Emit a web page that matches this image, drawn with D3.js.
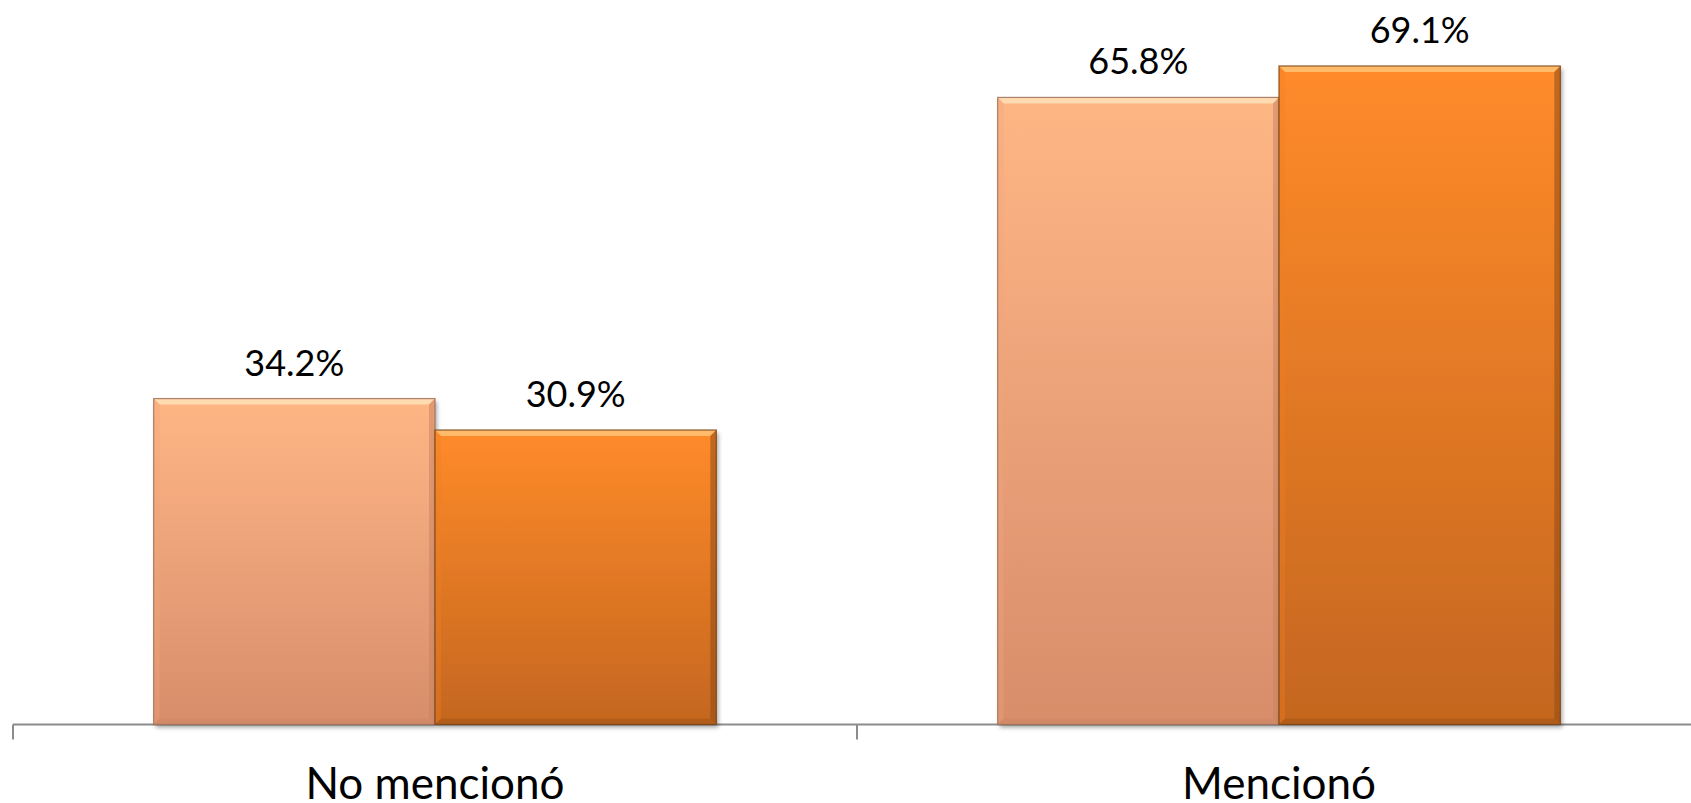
<!DOCTYPE html>
<html>
<head>
<meta charset="utf-8">
<script src="https://cdn.jsdelivr.net/npm/d3@7"></script>
<style>
  html, body { margin: 0; padding: 0; background: #fff; }
  svg { display: block; }
  text { font-family: Lato, "Open Sans", sans-serif; fill: #000; }
</style>
</head>
<body>
<svg id="chart" width="1691" height="803"></svg>
<script>
const categories = ["No mencionó", "Mencionó"];
const seriesNames = ["Serie 1", "Serie 2"];
const series1 = [34.2, 65.8];
const series2 = [30.9, 69.1];
const valueLabels = [["34.2%", "30.9%"], ["65.8%", "69.1%"]];

const W = 1691, H = 803;
const svg = d3.select("#chart");

const defs = svg.append("defs");
const palettes = [
  {top: "#ffb685", bottom: "#d88d6b", hi: "#ffe2b8", sideL: "#f2a77a", sideR: "#c98460", edge: "#a07058"},
  {top: "#ff8b2a", bottom: "#c4661f", hi: "#ffc276", sideL: "#f07f22", sideR: "#8f4a14", edge: "#7a4415"}
];
palettes.forEach((p, i) => {
  const g = defs.append("linearGradient").attr("id", "grad" + i)
    .attr("x1", 0).attr("y1", 0).attr("x2", 0).attr("y2", 1);
  g.append("stop").attr("offset", "0%").attr("stop-color", p.top);
  g.append("stop").attr("offset", "100%").attr("stop-color", p.bottom);
});
const f = defs.append("filter").attr("id", "shadow").attr("x", "-5%").attr("y", "-5%").attr("width", "110%").attr("height", "110%");
f.append("feDropShadow").attr("dx", 2).attr("dy", 3).attr("stdDeviation", 2).attr("flood-color", "#000").attr("flood-opacity", 0.35);

const baseline = 724.5;
const x0 = d3.scaleBand().domain(categories).range([13, 1701]).padding(0);
const x1 = d3.scaleBand().domain(seriesNames).range([0, x0.bandwidth()]).paddingInner(0).paddingOuter(0.5);
const y = d3.scaleLinear().domain([0, 76]).range([baseline, baseline - 76 * 9.53]);

const data = categories.map((c, i) => ({cat: c, vals: [series1[i], series2[i]]}));

// axis line
svg.append("line").attr("x1", x0.range()[0]).attr("x2", W).attr("y1", baseline).attr("y2", baseline)
  .attr("stroke", "#8c8c8c").attr("stroke-width", 2);
// boundary ticks
const tickPos = categories.map((c, i) => x0.range()[0] + i * x0.step()).concat([x0.range()[1]]);
svg.selectAll(".tick").data(tickPos).enter().append("line")
  .attr("x1", d => d).attr("x2", d => d).attr("y1", baseline).attr("y2", baseline + 15)
  .attr("stroke", "#8c8c8c").attr("stroke-width", 2);

const groups = svg.selectAll(".grp").data(data).enter().append("g")
  .attr("transform", d => `translate(${x0(d.cat)},0)`);

groups.each(function(d, ci) {
  const g = d3.select(this);
  d.vals.forEach((v, si) => {
    const p = palettes[si];
    const bx = x1(seriesNames[si]), bw = x1.bandwidth();
    const by = y(v), bh = baseline - by;
    const b = g.append("g");
    b.append("rect").attr("x", bx).attr("y", by).attr("width", bw).attr("height", bh)
      .attr("fill", `url(#grad${si})`).attr("filter", "url(#shadow)");
    const e = 6;
    b.append("path").attr("d", `M${bx},${by} L${bx + bw},${by} L${bx + bw - e},${by + e} L${bx + e},${by + e} Z`)
      .attr("fill", p.hi).attr("opacity", 0.85);
    b.append("path").attr("d", `M${bx},${by} L${bx + e},${by + e} L${bx + e},${baseline - e} L${bx},${baseline} Z`)
      .attr("fill", p.sideL).attr("opacity", 0.35);
    b.append("path").attr("d", `M${bx + bw},${by} L${bx + bw - e},${by + e} L${bx + bw - e},${baseline - e} L${bx + bw},${baseline} Z`)
      .attr("fill", p.sideR).attr("opacity", 0.55);
    b.append("path").attr("d", `M${bx},${baseline} L${bx + e},${baseline - e} L${bx + bw - e},${baseline - e} L${bx + bw},${baseline} Z`)
      .attr("fill", p.sideR).attr("opacity", 0.35);
    b.append("rect").attr("x", bx).attr("y", by).attr("width", bw).attr("height", bh)
      .attr("fill", "none").attr("stroke", p.edge).attr("stroke-width", 1.2).attr("stroke-opacity", 0.85);
    g.append("text").attr("x", bx + bw / 2).attr("y", by - 23)
      .attr("text-anchor", "middle").attr("font-size", 36).text(valueLabels[ci][si]);
  });
});

// category labels
svg.selectAll(".cat").data(categories).enter().append("text")
  .attr("x", d => x0(d) + x0.bandwidth() / 2).attr("y", 799)
  .attr("text-anchor", "middle").attr("font-size", 44).text(d => d);
</script>
</body>
</html>
